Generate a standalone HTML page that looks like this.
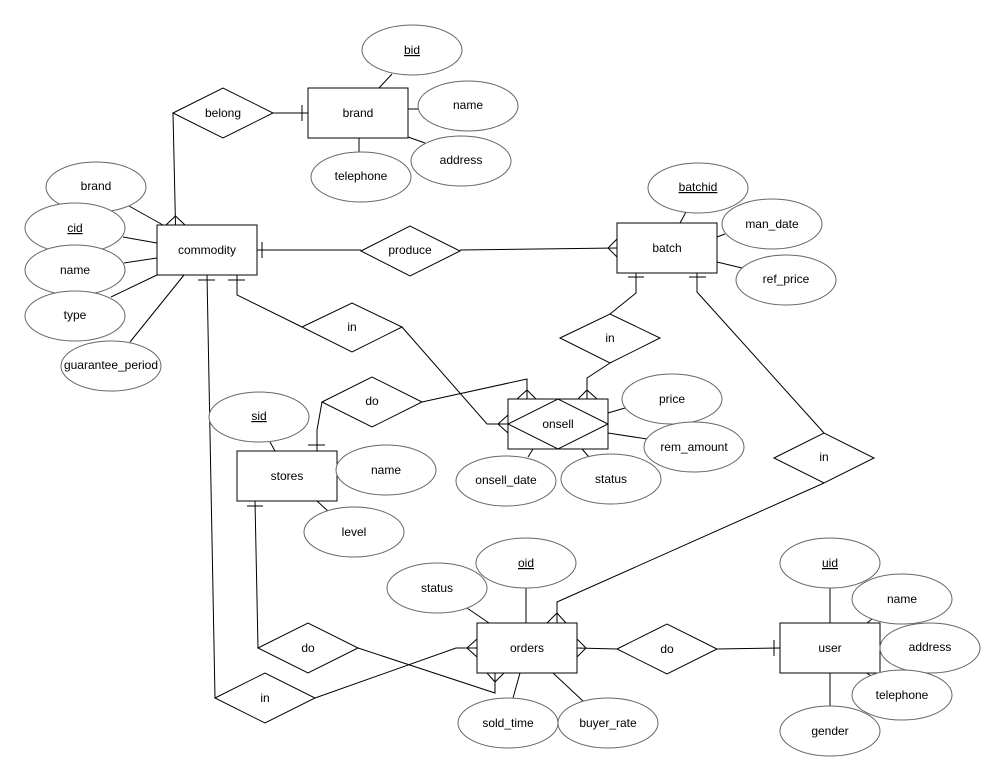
<!DOCTYPE html>
<html><head><meta charset="utf-8"><style>
html,body{margin:0;padding:0;background:#fff;}
svg{display:block;}
text{font-family:"Liberation Sans",Arial,sans-serif;font-size:12px;fill:#000;text-anchor:middle;}
.e{fill:#fff;stroke:#666;stroke-width:1;}
.r{fill:#fff;stroke:#000;stroke-width:1;}
.l{fill:none;stroke:#000;stroke-width:1;}
</style></head><body>
<svg width="1006" height="782" viewBox="0 0 1006 782" xmlns="http://www.w3.org/2000/svg">
<!-- attribute lines -->
<g class="l">
<path d="M392,74 L379,88"/>
<path d="M408,109 L418,109"/>
<path d="M408,137 L425,143"/>
<path d="M359,138 L359,152"/>
<path d="M129,206 L163,225"/>
<path d="M123,237 L157,243"/>
<path d="M124,263 L157,258"/>
<path d="M111,297 L157,275"/>
<path d="M130,342 L184,275"/>
<path d="M680,223 L686,212"/>
<path d="M717,237 L725,234"/>
<path d="M717,262 L742,268"/>
<path d="M608,413 L625,408"/>
<path d="M608,433 L647,439"/>
<path d="M533,449 L528,457"/>
<path d="M582,449 L589,457"/>
<path d="M270,442 L275,451"/>
<path d="M317,501 L329,512"/>
<path d="M526,588 L526,623"/>
<path d="M467,608 L489,623"/>
<path d="M520,673 L513,698"/>
<path d="M553,673 L584,702"/>
<path d="M830,588 L830,623"/>
<path d="M867,623 L872,619"/>
<path d="M867,673 L872,677"/>
<path d="M830,673 L830,706"/>
</g>
<!-- relationship connectors -->
<g class="l">
<path d="M273,113 L308,113"/><path d="M302,105 L302,121"/>
<path d="M173,113 L175.5,225"/><path d="M166,225 L175.5,216 L185,225"/>
<path d="M257,250 L361,250"/><path d="M262,242 L262,258"/>
<path d="M460,250 L617,248"/><path d="M617,239 L608,248 L617,257"/>
<path d="M636,273 L636,293 L610,314"/><path d="M628,277 L644,277"/>
<path d="M610,363 L587,378 L587,399"/><path d="M578,399 L587,390 L597,399"/>
<path d="M697,273 L697,292 L824,433"/><path d="M689,277 L706,277"/>
<path d="M824,483 L557,602 L557,623"/><path d="M547,623 L557,613 L566,623"/>
<path d="M237,275 L237,295 L302,327"/><path d="M228,280 L245,280"/>
<path d="M402,327 L487,424 L508,424"/><path d="M508,415 L498,424 L508,433"/>
<path d="M317,451 L317,430 L322,402"/><path d="M308,445 L325,445"/>
<path d="M422,402 L527,379 L527,399"/><path d="M517,399 L527,390 L536,399"/>
<path d="M207,275 L215,698"/><path d="M198,280 L215,280"/>
<path d="M315,698 L456,648 L477,648"/><path d="M477,639 L467,648 L477,657"/>
<path d="M255,501 L258,648"/><path d="M247,506 L263,506"/>
<path d="M358,648 L495,693 L495,673"/><path d="M487,673 L495,682 L504,673"/>
<path d="M577,648 L617,649"/><path d="M577,639 L586,648 L577,657"/>
<path d="M717,649 L780,648"/><path d="M774,640 L774,656"/>
</g>
<!-- diamonds -->
<g class="r">
<polygon points="173,113 223,88 273,113 223,138"/>
<polygon points="361,251 410,226 460,251 410,276"/>
<polygon points="560,338 610,314 660,338 610,363"/>
<polygon points="774,458 824,433 874,458 824,483"/>
<polygon points="302,327 352,303 402,327 352,352"/>
<polygon points="322,402 372,377 422,402 372,427"/>
<polygon points="258,648 308,623 358,648 308,673"/>
<polygon points="215,698 265,673 315,698 265,723"/>
<polygon points="617,649 667,624 717,649 667,674"/>
</g>
<!-- entities -->
<g class="r">
<rect x="308" y="88" width="100" height="50"/>
<rect x="157" y="225" width="100" height="50"/>
<rect x="617" y="223" width="100" height="50"/>
<rect x="508" y="399" width="100" height="50"/>
<rect x="237" y="451" width="100" height="50"/>
<rect x="477" y="623" width="100" height="50"/>
<rect x="780" y="623" width="100" height="50"/>
</g>
<polygon class="l" points="508,424 558,399 608,424 558,449"/>
<!-- attributes -->
<g class="e">
<ellipse cx="412" cy="50" rx="50" ry="25"/>
<ellipse cx="468" cy="106" rx="50" ry="25"/>
<ellipse cx="461" cy="161" rx="50" ry="25"/>
<ellipse cx="361" cy="177" rx="50" ry="25"/>
<ellipse cx="96" cy="187" rx="50" ry="25"/>
<ellipse cx="75" cy="228" rx="50" ry="25"/>
<ellipse cx="75" cy="270" rx="50" ry="25"/>
<ellipse cx="75" cy="316" rx="50" ry="25"/>
<ellipse cx="111" cy="366" rx="50" ry="25"/>
<ellipse cx="698" cy="188" rx="50" ry="25"/>
<ellipse cx="772" cy="224" rx="50" ry="25"/>
<ellipse cx="786" cy="280" rx="50" ry="25"/>
<ellipse cx="672" cy="399" rx="50" ry="25"/>
<ellipse cx="694" cy="447" rx="50" ry="25"/>
<ellipse cx="506" cy="481" rx="50" ry="25"/>
<ellipse cx="611" cy="479" rx="50" ry="25"/>
<ellipse cx="259" cy="417" rx="50" ry="25"/>
<ellipse cx="386" cy="470" rx="50" ry="25"/>
<ellipse cx="354" cy="532" rx="50" ry="25"/>
<ellipse cx="437" cy="588" rx="50" ry="25"/>
<ellipse cx="526" cy="563" rx="50" ry="25"/>
<ellipse cx="508" cy="723" rx="50" ry="25"/>
<ellipse cx="608" cy="723" rx="50" ry="25"/>
<ellipse cx="830" cy="563" rx="50" ry="25"/>
<ellipse cx="902" cy="599" rx="50" ry="25"/>
<ellipse cx="930" cy="648" rx="50" ry="25"/>
<ellipse cx="902" cy="695" rx="50" ry="25"/>
<ellipse cx="830" cy="731" rx="50" ry="25"/>
</g>
<!-- labels -->
<g>
<text x="412" y="54" text-decoration="underline">bid</text>
<text x="468" y="109">name</text>
<text x="461" y="164">address</text>
<text x="361" y="180">telephone</text>
<text x="358" y="117">brand</text>
<text x="223" y="117">belong</text>
<text x="96" y="190">brand</text>
<text x="75" y="232" text-decoration="underline">cid</text>
<text x="75" y="274">name</text>
<text x="75" y="319">type</text>
<text x="111" y="369">guarantee_period</text>
<text x="207" y="254">commodity</text>
<text x="410" y="254">produce</text>
<text x="667" y="252">batch</text>
<text x="698" y="191" text-decoration="underline">batchid</text>
<text x="772" y="228">man_date</text>
<text x="786" y="283">ref_price</text>
<text x="610" y="342">in</text>
<text x="824" y="461">in</text>
<text x="352" y="331">in</text>
<text x="372" y="405">do</text>
<text x="558" y="428">onsell</text>
<text x="672" y="403">price</text>
<text x="694" y="451">rem_amount</text>
<text x="506" y="484">onsell_date</text>
<text x="611" y="483">status</text>
<text x="259" y="420" text-decoration="underline">sid</text>
<text x="287" y="480">stores</text>
<text x="386" y="474">name</text>
<text x="354" y="536">level</text>
<text x="437" y="592">status</text>
<text x="526" y="567" text-decoration="underline">oid</text>
<text x="527" y="652">orders</text>
<text x="508" y="727">sold_time</text>
<text x="608" y="727">buyer_rate</text>
<text x="308" y="652">do</text>
<text x="265" y="702">in</text>
<text x="667" y="653">do</text>
<text x="830" y="652">user</text>
<text x="830" y="567" text-decoration="underline">uid</text>
<text x="902" y="603">name</text>
<text x="930" y="651">address</text>
<text x="902" y="699">telephone</text>
<text x="830" y="735">gender</text>
</g>
</svg>
</body></html>
